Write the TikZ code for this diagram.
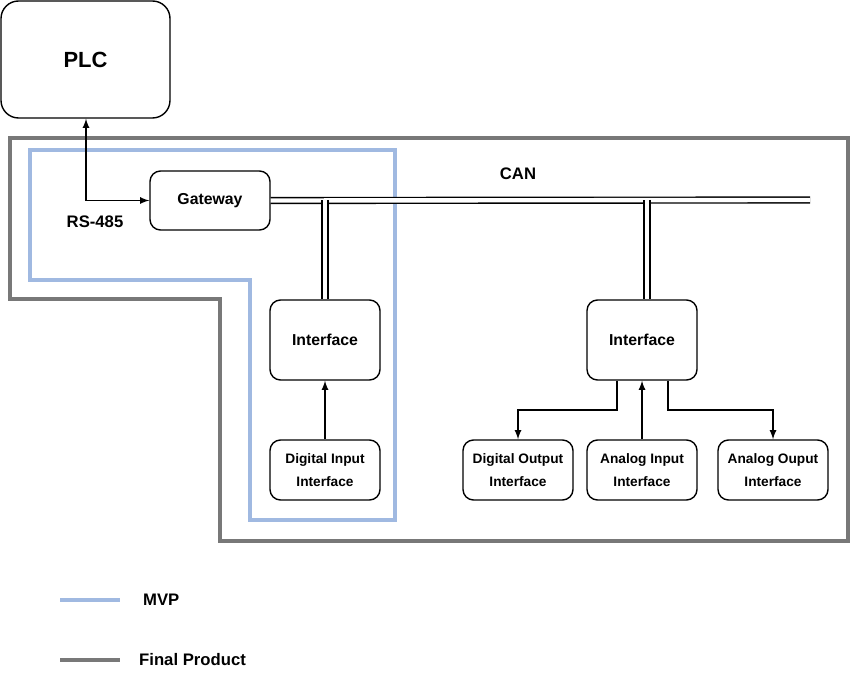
\documentclass[tikz,border=0pt]{standalone}
\usepackage{fontspec}
\setmainfont{Liberation Sans}
\usetikzlibrary{positioning}
\definecolor{mvpblue}{RGB}{160,185,225}
\definecolor{prodgray}{RGB}{120,120,120}
\tikzset{
    box/.style={draw, rounded corners=6pt, thick, align=center, font=\bfseries\fontsize{9}{11}\selectfont},
    smallbox/.style={box, minimum width=110*0.02cm, minimum height=60*0.02cm, font=\bfseries\fontsize{7.8}{13}\selectfont},
    bus/.style={double, double distance=2.5pt, thick},
    link/.style={thick, -latex},
}
\begin{document}
\begin{tikzpicture}[x=0.02cm, y=-0.02cm]
    \useasboundingbox (0,0) rectangle (855,678);
    % outlines
    \draw[prodgray, line width=1.8pt] (10,138) -- (848,138) -- (848,541) -- (220,541) -- (220,299) -- (10,299) -- cycle;
    \draw[mvpblue, line width=1.8pt] (30,150) -- (395,150) -- (395,520) -- (250,520) -- (250,280) -- (30,280) -- cycle;
    % nodes
    \node[box, minimum width=169*0.02cm, minimum height=117*0.02cm, rounded corners=10pt,
          font=\bfseries\fontsize{12.5}{14}\selectfont] (plc) at (85.5,59.5) {PLC};
    \node[box, minimum width=120*0.02cm, minimum height=59*0.02cm] (gw) at (210,200.5) {Gateway};
    \node[box, minimum width=110*0.02cm, minimum height=80*0.02cm] (if1) at (325,340) {Interface};
    \node[box, minimum width=110*0.02cm, minimum height=80*0.02cm] (if2) at (642,340) {Interface};
    \node[smallbox] (di) at (325,470) {Digital Input\\Interface};
    \node[smallbox] (do) at (518,470) {Digital Output\\Interface};
    \node[smallbox] (ai) at (642,470) {Analog Input\\Interface};
    \node[smallbox] (ao) at (773,470) {Analog Ouput\\Interface};
    % bus
    \coordinate (busend) at (810,200);
    \coordinate (tap1) at (325,200);
    \coordinate (tap2) at (647,200);
    \draw[bus] (gw.east) -- (busend);
    \draw[bus] (tap1) -- (tap1 |- if1.north);
    \draw[bus] (tap2) -- (tap2 |- if2.north);
    \node[font=\bfseries\fontsize{9.5}{11}\selectfont] (can) at (518,174) {CAN};
    % links
    \draw[thick, latex-latex] (plc.south -| 86,0) |- (gw.west);
    \node[font=\bfseries\fontsize{9.5}{11}\selectfont] (rs) at (95,222) {RS-485};
    \draw[link] (di) -- (if1);
    \draw[link] (ai) -- (if2);
    \draw[link] (if2.south -| 617,0) -- (617,410) -| (do);
    \draw[link] (if2.south -| 668,0) -- (668,410) -| (ao);
    % legend
    \coordinate (l1a) at (60,600); \coordinate (l1b) at (120,600);
    \coordinate (l2a) at (60,660); \coordinate (l2b) at (120,660);
    \draw[mvpblue, line width=1.8pt] (l1a) -- (l1b);
    \draw[prodgray, line width=1.8pt] (l2a) -- (l2b);
    \node[font=\bfseries\fontsize{9.5}{11}\selectfont, anchor=west] (mvp) at (137,600) {MVP};
    \node[font=\bfseries\fontsize{9.5}{11}\selectfont, anchor=west] (fp) at (133,660) {Final Product};
\end{tikzpicture}
\end{document}
